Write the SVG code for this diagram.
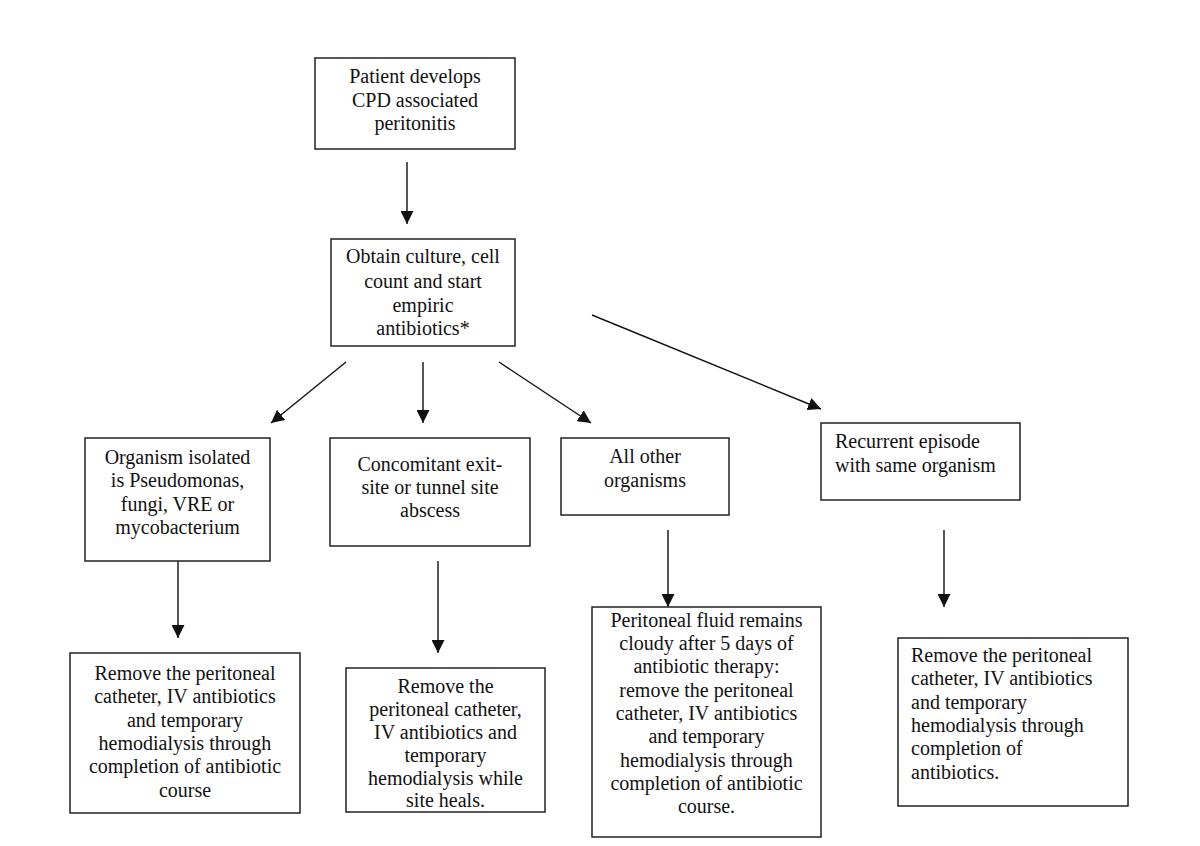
<svg xmlns="http://www.w3.org/2000/svg" width="1200" height="846" viewBox="0 0 1200 846">
<defs>
<style>
.box{fill:#fff;stroke:#222;stroke-width:1.5}
.t{font-family:"Liberation Serif","Times New Roman",serif;font-size:20px;fill:#111;text-anchor:middle}
.tl{font-family:"Liberation Serif","Times New Roman",serif;font-size:20px;fill:#111;text-anchor:start}
.c{stroke:#111;stroke-width:1.4;fill:none;marker-end:url(#ah)}
</style>
<marker id="ah" markerUnits="userSpaceOnUse" markerWidth="13" markerHeight="13" viewBox="0 0 13 13" refX="13" refY="6.5" orient="auto">
<path d="M0,0 L13,6.5 L0,13 z" fill="#111"/>
</marker>
</defs>
<rect width="1200" height="846" fill="#fff"/>
<g id="connectors">
<line class="c" x1="407" y1="162" x2="407" y2="224"/>
<line class="c" x1="346" y1="362" x2="271" y2="423"/>
<line class="c" x1="423" y1="362" x2="423" y2="423"/>
<line class="c" x1="499" y1="362" x2="591" y2="423"/>
<line class="c" x1="592" y1="315" x2="821" y2="409"/>
<line class="c" x1="178" y1="561" x2="178" y2="638"/>
<line class="c" x1="438" y1="561" x2="438" y2="653"/>
<line class="c" x1="668" y1="530" x2="668" y2="607"/>
<line class="c" x1="944" y1="530" x2="944" y2="607"/>
</g>
<g id="n1">
<rect class="box" x="315" y="58" width="200" height="91"/>
<text class="t" x="415" y="83">Patient develops</text>
<text class="t" x="415" y="107">CPD associated</text>
<text class="t" x="415" y="130">peritonitis</text>
</g>
<g id="n2">
<rect class="box" x="331" y="239" width="184" height="107"/>
<text class="t" x="423" y="263">Obtain culture, cell</text>
<text class="t" x="423" y="288">count and start</text>
<text class="t" x="423" y="312">empiric</text>
<text class="t" x="423" y="335">antibiotics*</text>
</g>
<g id="n3a">
<rect class="box" x="85" y="438" width="185" height="123"/>
<text class="t" x="177.5" y="464">Organism isolated</text>
<text class="t" x="177.5" y="487">is Pseudomonas,</text>
<text class="t" x="177.5" y="511">fungi, VRE or</text>
<text class="t" x="177.5" y="534">mycobacterium</text>
</g>
<g id="n3b">
<rect class="box" x="330" y="438" width="200" height="108"/>
<text class="t" x="430" y="471">Concomitant exit-</text>
<text class="t" x="430" y="494">site or tunnel site</text>
<text class="t" x="430" y="517">abscess</text>
</g>
<g id="n3c">
<rect class="box" x="561" y="438" width="168" height="77"/>
<text class="t" x="645" y="463">All other</text>
<text class="t" x="645" y="487">organisms</text>
</g>
<g id="n3d">
<rect class="box" x="821" y="423" width="199" height="77"/>
<text class="tl" x="835" y="448">Recurrent episode</text>
<text class="tl" x="835" y="472">with same organism</text>
</g>
<g id="n4a">
<rect class="box" x="70" y="653" width="230" height="160"/>
<text class="t" x="185" y="680">Remove the peritoneal</text>
<text class="t" x="185" y="703">catheter, IV antibiotics</text>
<text class="t" x="185" y="727">and temporary</text>
<text class="t" x="185" y="750">hemodialysis through</text>
<text class="t" x="185" y="773">completion of antibiotic</text>
<text class="t" x="185" y="797">course</text>
</g>
<g id="n4b">
<rect class="box" x="346" y="668" width="199" height="144"/>
<text class="t" x="445.5" y="693">Remove the</text>
<text class="t" x="445.5" y="716">peritoneal catheter,</text>
<text class="t" x="445.5" y="739">IV antibiotics and</text>
<text class="t" x="445.5" y="762">temporary</text>
<text class="t" x="445.5" y="785">hemodialysis while</text>
<text class="t" x="445.5" y="807">site heals.</text>
</g>
<g id="n4c">
<rect class="box" x="592" y="607" width="229" height="230"/>
<text class="t" x="706.5" y="627">Peritoneal fluid remains</text>
<text class="t" x="706.5" y="650">cloudy after 5 days of</text>
<text class="t" x="706.5" y="673">antibiotic therapy:</text>
<text class="t" x="706.5" y="697">remove the peritoneal</text>
<text class="t" x="706.5" y="720">catheter, IV antibiotics</text>
<text class="t" x="706.5" y="743">and temporary</text>
<text class="t" x="706.5" y="767">hemodialysis through</text>
<text class="t" x="706.5" y="790">completion of antibiotic</text>
<text class="t" x="706.5" y="813">course.</text>
</g>
<g id="n4d">
<rect class="box" x="898" y="638" width="230" height="168"/>
<text class="tl" x="911" y="662">Remove the peritoneal</text>
<text class="tl" x="911" y="685">catheter, IV antibiotics</text>
<text class="tl" x="911" y="709">and temporary</text>
<text class="tl" x="911" y="732">hemodialysis through</text>
<text class="tl" x="911" y="755">completion of</text>
<text class="tl" x="911" y="779">antibiotics.</text>
</g>
</svg>
